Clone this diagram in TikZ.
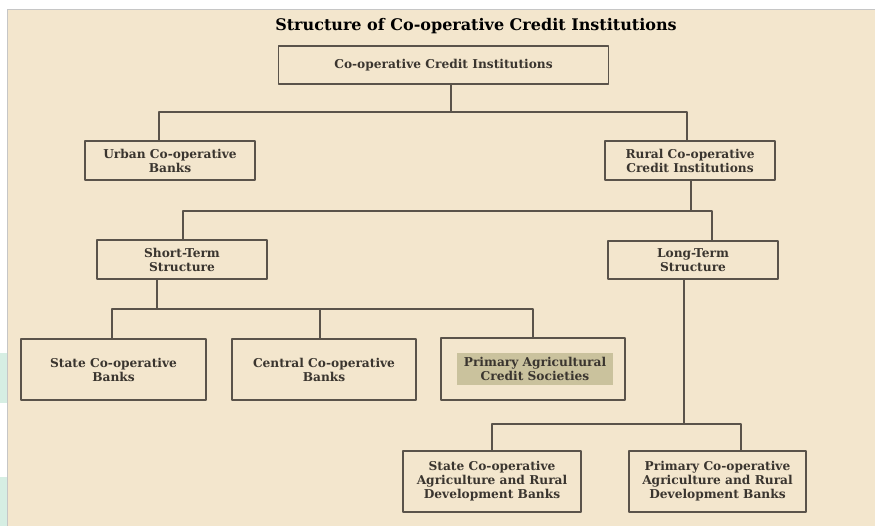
\documentclass[tikz,border=0pt]{standalone}
\usepackage{fontspec}
\setmainfont{DejaVu Serif}
\definecolor{paper}{HTML}{F3E6CD}
\definecolor{ink}{HTML}{5A534A}
\definecolor{txt}{HTML}{3A352F}
\definecolor{mark}{HTML}{CAC29D}
\definecolor{sidegreen}{HTML}{D6EEE3}
\begin{document}
\begin{tikzpicture}[x=1pt, y=-1pt, line join=round, line cap=round,
    box/.style={draw=ink, line width=1.4pt, inner sep=0pt, align=center, text=txt,
      font=\bfseries\fontsize{12.2}{14}\selectfont},
    link/.style={draw=ink, line width=1.4pt}]
			\useasboundingbox (0,0) rectangle (875,526);
			\fill[white] (0,0) rectangle (875,526);
			\fill[sidegreen] (0,353) rectangle (7,403);
			\fill[sidegreen] (0,477) rectangle (7,526);
			\fill[paper] (7,9) rectangle (875,526);
			\draw[gray!45, line width=0.8pt] (7,526) -- (7,9) -- (876,9);
			\node (title) at (476,26) [font=\bfseries\fontsize{16}{18}\selectfont] {Structure of Co-operative Credit Institutions};
			\node[box, minimum width=330, minimum height=38] (top) at (443.5,65) {Co-operative Credit Institutions};
			\node[box, minimum width=170, minimum height=39] (urban) at (170,160.5) {Urban Co-operative\\Banks};
			\node[box, minimum width=170, minimum height=39] (rural) at (690,160.5) {Rural Co-operative\\Credit Institutions};
			\node[box, minimum width=170, minimum height=39] (short) at (182,259.5) {Short-Term\\Structure};
			\node[box, minimum width=170, minimum height=38] (long) at (693,260) {Long-Term\\Structure};
			\node[box, minimum width=185, minimum height=61] (stateb) at (113.5,369.5) {State Co-operative\\Banks};
			\node[box, minimum width=184, minimum height=61] (central) at (324,369.5) {Central Co-operative\\Banks};
			\node[box, minimum width=184, minimum height=62] (pacs) at (533,369) {};
			\node[box, draw=none, fill=mark, minimum width=156, minimum height=32] (pacstext) at (535,369) {Primary Agricultural\\Credit Societies};
			\node[box, minimum width=178, minimum height=61] (sard) at (492,481.5) {State Co-operative\\Agriculture and Rural\\Development Banks};
			\node[box, minimum width=177, minimum height=61] (pcard) at (717.5,481.5) {Primary Co-operative\\Agriculture and Rural\\Development Banks};
			\coordinate (b1) at (451,112);
			\coordinate (b1l) at (159,112);
			\coordinate (b1r) at (687,112);
			\coordinate (b2) at (691,211);
			\coordinate (b2l) at (183,211);
			\coordinate (b2r) at (712,211);
			\coordinate (b3) at (157,309);
			\coordinate (b3l) at (112,309);
			\coordinate (b3m) at (320,309);
			\coordinate (b3r) at (533,309);
			\coordinate (b4) at (684,424);
			\coordinate (b4l) at (492,424);
			\coordinate (b4r) at (741,424);
			\draw[link] (top.south -| b1) -- (b1);
			\draw[link] (urban.north -| b1l) -- (b1l) -- (b1r) -- (rural.north -| b1r);
			\draw[link] (rural.south -| b2) -- (b2);
			\draw[link] (short.north -| b2l) -- (b2l) -- (b2r) -- (long.north -| b2r);
			\draw[link] (short.south -| b3) -- (b3);
			\draw[link] (stateb.north -| b3l) -- (b3l) -- (b3r) -- (pacs.north -| b3r);
			\draw[link] (b3m) -- (central.north -| b3m);
			\draw[link] (long.south -| b4) -- (b4);
			\draw[link] (sard.north -| b4l) -- (b4l) -- (b4r) -- (pcard.north -| b4r);
		\end{tikzpicture}
\end{document}
